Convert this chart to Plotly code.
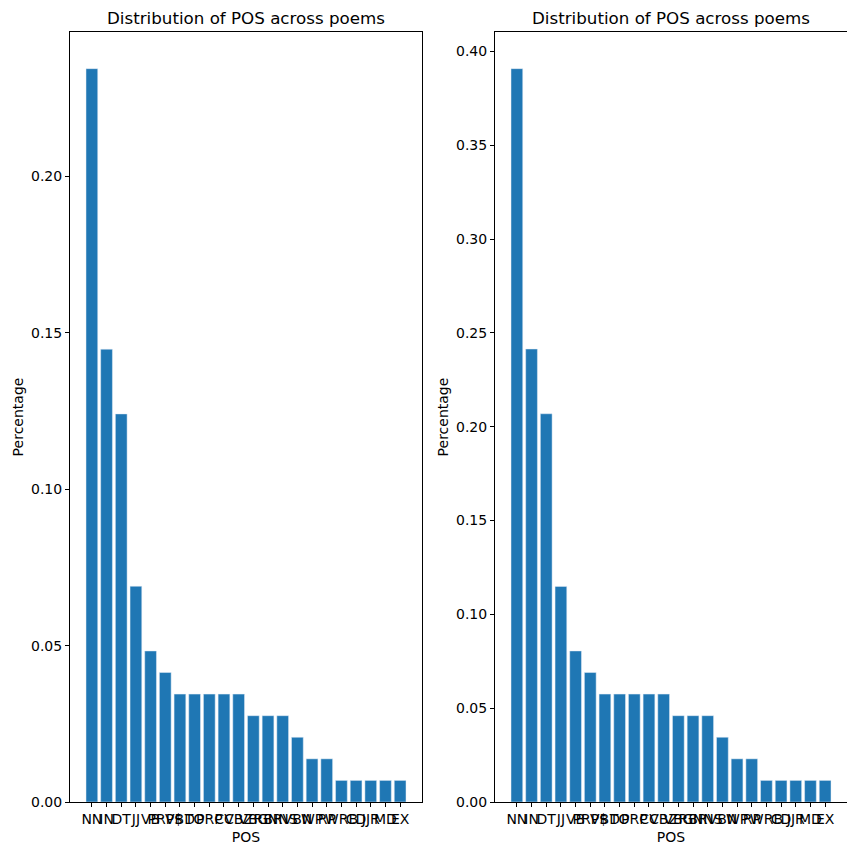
import plotly.graph_objects as go

# POS tags, sorted by frequency (same order in both panels)
pos_tags = ["NN", "IN", "DT", "JJ", "VB", "PRP$", "VBD", "TO", "PRP", "CC", "VBZ",
            "VBG", "RBR", "NNS", "VBN", "WP", "RP", "WRB", "CD", "JJR", "MD", "EX"]

# share of each tag, left panel
left_pct = [0.2345, 0.1448, 0.1241, 0.0690, 0.0483, 0.0414, 0.0345, 0.0345, 0.0345,
            0.0345, 0.0345, 0.0276, 0.0276, 0.0276, 0.0207, 0.0138, 0.0138, 0.0069,
            0.0069, 0.0069, 0.0069, 0.0069]

# share of each tag, right panel
right_pct = [0.3908, 0.2414, 0.2069, 0.1149, 0.0805, 0.0690, 0.0575, 0.0575, 0.0575,
             0.0575, 0.0575, 0.0460, 0.0460, 0.0460, 0.0345, 0.0230, 0.0230, 0.0115,
             0.0115, 0.0115, 0.0115, 0.0115]

left_ticks = [0.0, 0.05, 0.10, 0.15, 0.20]
right_ticks = [0.0, 0.05, 0.10, 0.15, 0.20, 0.25, 0.30, 0.35, 0.40]

# the page body adds an 8px margin, so the figure is 847px and positions are shifted
OFF = 8
W = H = 855 - OFF
blue = "#1f77b4"
font = "DejaVu Sans"

fig = go.Figure()
fig.add_trace(go.Bar(x=pos_tags, y=left_pct, marker_color=blue, width=0.8,
                     xaxis="x", yaxis="y", showlegend=False))
fig.add_trace(go.Bar(x=pos_tags, y=right_pct, marker_color=blue, width=0.8,
                     xaxis="x2", yaxis="y2", showlegend=False))

n = len(pos_tags)
xr = [-0.4 - 0.05 * (n - 0.2), n - 0.6 + 0.05 * (n - 0.2)]

dom_y = [1 - (802 - OFF) / H, 1 - (32 - OFF) / H]
dom_x1 = [(70 - OFF) / W, (422 - OFF) / W]
dom_x2 = [(495 - OFF) / W, (847 - OFF) / W]

axis_common = dict(showgrid=False, zeroline=False, showline=True, linecolor="black",
                   linewidth=1, mirror=True, ticks="outside", ticklen=4,
                   tickcolor="black", tickfont=dict(size=14, color="black"),
                   automargin=False)

# every tag gets its label, overlapping like the original
x_ticks = dict(tickmode="array", tickvals=pos_tags, ticktext=pos_tags)

fig.update_layout(
    width=W, height=H,
    margin=dict(l=0, r=0, t=0, b=0),
    plot_bgcolor="white", paper_bgcolor="white",
    font=dict(family=font, color="black"),
    xaxis=dict(domain=dom_x1, anchor="y", range=xr, tickangle=0, **x_ticks,
               title=dict(text="POS", font=dict(size=14), standoff=6), **axis_common),
    yaxis=dict(domain=dom_y, anchor="x", range=[0, max(left_pct) * 1.05],
               tickvals=left_ticks, tickformat=".2f",
               title=dict(text="Percentage", font=dict(size=14), standoff=4), **axis_common),
    xaxis2=dict(domain=dom_x2, anchor="y2", range=xr, tickangle=0, **x_ticks,
                title=dict(text="POS", font=dict(size=14), standoff=6), **axis_common),
    yaxis2=dict(domain=dom_y, anchor="x2", range=[0, max(right_pct) * 1.05],
                tickvals=right_ticks, tickformat=".2f",
                title=dict(text="Percentage", font=dict(size=14), standoff=4), **axis_common),
)

for dom in (dom_x1, dom_x2):
    fig.add_annotation(text="Distribution of POS across poems", xref="paper", yref="paper",
                       x=(dom[0] + dom[1]) / 2, y=dom_y[1], yshift=2,
                       xanchor="center", yanchor="bottom", showarrow=False,
                       font=dict(size=16.7, color="black", family=font))

fig.write_html("out.html")
